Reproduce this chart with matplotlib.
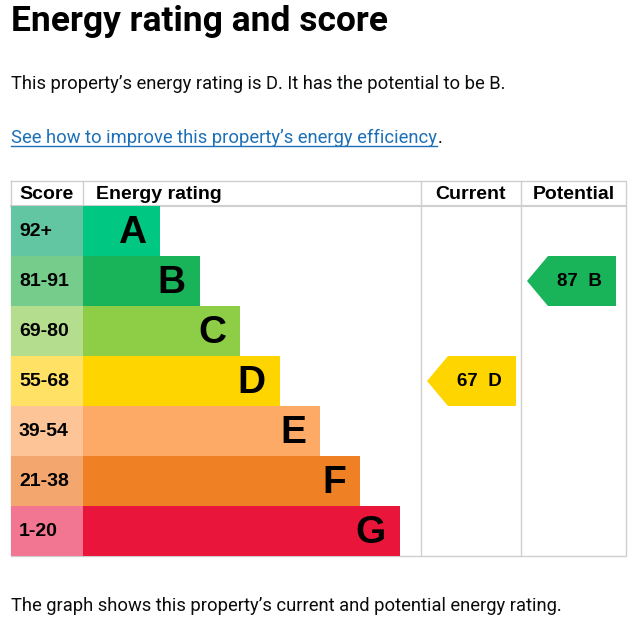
import matplotlib.pyplot as plt
from matplotlib.patches import Polygon

# chart data
bands = ["A", "B", "C", "D", "E", "F", "G"]
score_ranges = ["92+", "81-91", "69-80", "55-68", "39-54", "21-38", "1-20"]
bar_lengths = [77, 117, 157, 197, 237, 277, 317]
bar_colours = ["#00c781", "#19b459", "#8dce46", "#ffd500", "#fcaa65", "#ef8023", "#e9153b"]
score_colours = ["#62c6a3", "#75cc8b", "#b4dd8d", "#ffe165", "#fdc597", "#f4a66f", "#f27592"]
current_score, current_band = 67, "D"
potential_score, potential_band = 87, "B"

title = "Energy rating and score"
summary = "This property\u2019s energy rating is D. It has the potential to be B."
link_text = "See how to improve this property\u2019s energy efficiency"
footer = "The graph shows this property\u2019s current and potential energy rating."

W, H = 640, 634
fig = plt.figure(figsize=(W / 100, H / 100), dpi=100)
ax = fig.add_axes([0, 0, 1, 1])
ax.set_xlim(0, W)
ax.set_ylim(H, 0)
ax.axis("off")

body_font = "Roboto"
table_font = "Liberation Sans"
body_size = 13.25

ax.text(11, 22, title, fontsize=25.5, fontweight="bold", family=body_font, va="center", ha="left")
ax.text(11, 84, summary, fontsize=body_size, family=body_font, va="center", ha="left", color="#0b0c0c")
link = ax.text(11, 138, link_text, fontsize=body_size, family=body_font, va="center", ha="left", color="#1d70b8")
ax.text(11, 606, footer, fontsize=body_size, family=body_font, va="center", ha="left", color="#0b0c0c")

# table layout
left, score_w, cur_x, pot_x, right = 11, 72, 421, 521, 626
top, head_h, row_h = 181, 25, 50
bottom = top + head_h + row_h * len(bands)
grid = "#cfcfcf"

ax.plot([left, right, right, left, left], [top, top, bottom, bottom, top], color=grid, lw=1)
ax.plot([left, right], [top + head_h] * 2, color=grid, lw=1.5)
for x in [left + score_w, cur_x, pot_x]:
    ax.plot([x, x], [top, bottom], color=grid, lw=1)

hy = top + head_h / 2 + 1
hkw = dict(fontsize=14, fontweight="bold", family=table_font, va="center")
ax.text(19, hy, "Score", ha="left", **hkw)
ax.text(96, hy, "Energy rating", ha="left", **hkw)
ax.text((cur_x + pot_x) / 2, hy, "Current", ha="center", **hkw)
ax.text((pot_x + right) / 2, hy, "Potential", ha="center", **hkw)

rows = [top + head_h + row_h * (i + 0.5) for i in range(len(bands))]
ax.barh(rows, [score_w] * len(bands), left=left, height=row_h, color=score_colours, zorder=3)
ax.barh(rows, bar_lengths, left=left + score_w, height=row_h, color=bar_colours, zorder=3)

for y, rng, band, length in zip(rows, score_ranges, bands, bar_lengths):
    ax.text(19, y + 1, rng, fontsize=14, fontweight="bold", family=table_font,
            va="center", ha="left", zorder=4)
    ax.text(left + score_w + length - 14, y + 2, band, fontsize=28, fontweight="bold",
            family=table_font, va="center", ha="right", zorder=4)


def rating_arrow(col_left, score, band):
    i = bands.index(band)
    y = rows[i]
    colour = bar_colours[i]
    tip = col_left + 6
    body = tip + 21
    end = tip + 89
    pts = [(tip, y), (body, y - row_h / 2), (end, y - row_h / 2), (end, y + row_h / 2), (body, y + row_h / 2)]
    ax.add_patch(Polygon(pts, closed=True, color=colour, lw=0, zorder=3))
    ax.text((body + end) / 2 - 3, y + 1, f"{score}  {band}", fontsize=13.5, fontweight="bold",
            family=table_font, va="center", ha="center", zorder=4)


rating_arrow(cur_x, current_score, current_band)
rating_arrow(pot_x, potential_score, potential_band)

# underline for the link and the trailing full stop
fig.canvas.draw()
bb = link.get_window_extent().transformed(ax.transData.inverted())
ax.plot([bb.x0, bb.x1], [bb.y0 - 1, bb.y0 - 1], color="#1d70b8", lw=1)
ax.text(bb.x1 + 1, 138, ".", fontsize=body_size, family=body_font, va="center", ha="left", color="#0b0c0c")

fig.savefig("out.png", dpi=100)
